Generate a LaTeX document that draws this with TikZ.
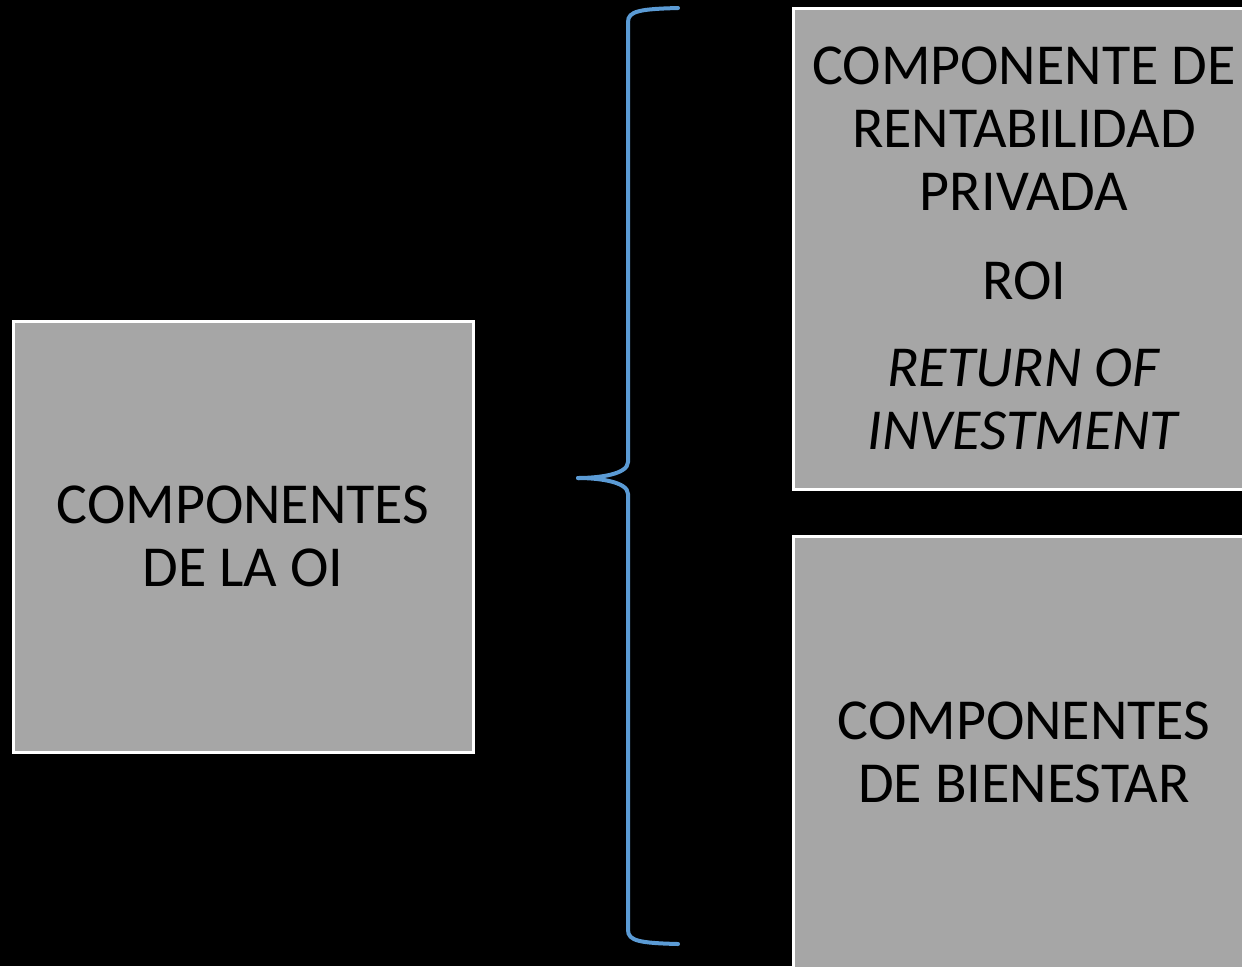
\documentclass[tikz,border=0pt]{standalone}
\usepackage{fontspec}
\setmainfont{Carlito}
\usetikzlibrary{positioning}
\definecolor{boxgray}{HTML}{A6A6A6}
\definecolor{braceblue}{HTML}{5B9BD5}
\tikzset{greybox/.style={draw=white,line width=1.5pt,fill=boxgray,inner sep=0pt,align=center,
                         font=\fontsize{29}{31.5}\selectfont},
         bracepath/.style={draw=braceblue,line width=2pt,line cap=round},
        }

\begin{document}
\begin{tikzpicture}[x=0.5pt,y=-0.5pt]
        \fill[black](0,0)rectangle(1242,966);
        \useasboundingbox(0,0)rectangle(1242,966);
        \clip(0,0)rectangle(1242,966);

        \node[greybox,minimum width=230pt,minimum height=215.5pt](oi)at(243,536.5){COMPONENTES\\DE LA OI};
        \node[greybox,minimum width=231pt,minimum height=240.5pt](roi)at(1024,248.5){COMPONENTE DE\\RENTABILIDAD\\PRIVADA\\[13pt]ROI\\[12pt]\textit{RETURN OF}\\\textit{INVESTMENT}};
        \node[greybox,minimum width=231pt,minimum height=216pt](bien)at(1024,752){COMPONENTES\\DE BIENESTAR};

        \coordinate(btop)at(678,8);
        \coordinate(btip)at(578,478);
        \coordinate(bbot)at(678,944);

        \draw[bracepath](btop)..controls(640,9)and(628,11)..(628,22)--(628,462)
                ..controls(628,474)and(600,478)..(btip);
        \draw[bracepath](btip)..controls(600,478)and(628,482)..(628,494)--(628,930)
                ..controls(628,941)and(640,943)..(bbot);
    \end{tikzpicture}
\end{document}
